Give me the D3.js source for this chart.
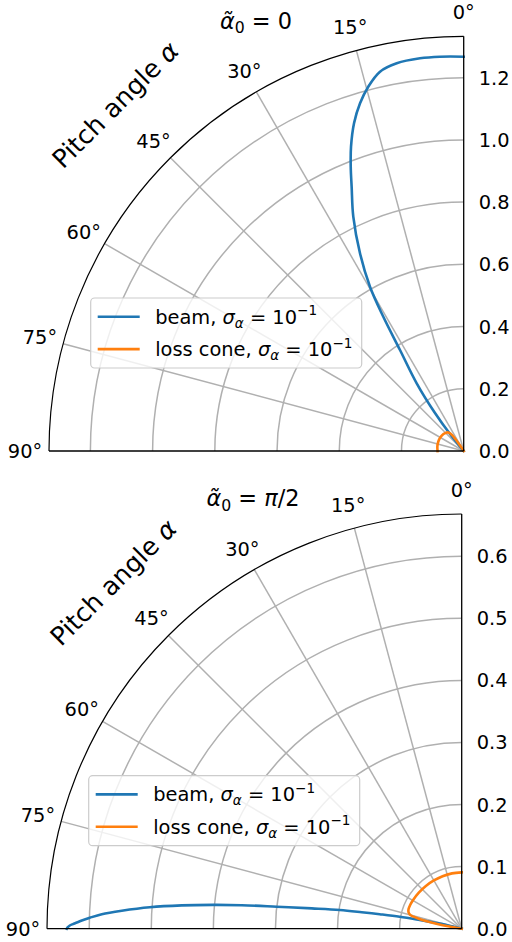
<!DOCTYPE html>
<html><head><meta charset="utf-8">
<script src="https://cdn.jsdelivr.net/npm/d3@7"></script>
<style>
body{margin:0;background:#fff}
svg{display:block}
text{font-family:"DejaVu Sans",sans-serif;fill:#000}
</style>
</head><body>
<svg id="chart" width="512" height="942"></svg>
<script>
// ---------- data ----------
const thetaTicks = [0, 15, 30, 45, 60, 75, 90];
const thetaTickLabels = ["0°", "15°", "30°", "45°", "60°", "75°", "90°"];
const rTicksTop = [0.0, 0.2, 0.4, 0.6, 0.8, 1.0, 1.2];
const rTickLabelsTop = ["0.0", "0.2", "0.4", "0.6", "0.8", "1.0", "1.2"];
const rTicksBottom = [0.0, 0.1, 0.2, 0.3, 0.4, 0.5, 0.6];
const rTickLabelsBottom = ["0.0", "0.1", "0.2", "0.3", "0.4", "0.5", "0.6"];
const rMaxTop = 1.333;
const rMaxBottom = 0.668;
const seriesNames = ["beam", "loss cone"];

// top panel (alpha0 = 0)
const topBeamAlpha = [0, 3.44, 6.35, 9.8, 12.44, 14.68, 16.6, 18.5, 20.32, 21.67, 22.97, 25.23, 27.68, 29.7, 30.91, 32.24, 34.77, 37, 39, 40.5];
const topBeamR     = [1.2675, 1.2697, 1.270, 1.2647, 1.2486, 1.2105, 1.1663, 1.111, 1.043, 0.9834, 0.923, 0.8326, 0.7176, 0.608, 0.503, 0.3838, 0.265, 0.156, 0.065, 0.0];
const topLossAlpha = [31, 33, 34, 35, 36, 38, 40, 44, 50, 60, 70, 80, 90];
const topLossR     = [0.0, 0.012, 0.030, 0.048, 0.062, 0.073, 0.078, 0.082, 0.085, 0.087, 0.087, 0.086, 0.084];

// bottom panel (alpha0 = pi/2)
const botBeamAlpha = [75.5, 76.1, 77.5, 78.3, 79.05, 79.97, 80.63, 81.29, 82.29, 83.22, 83.9, 84.54, 85.24, 86.06, 86.97, 87.69, 88.31, 88.76, 89.08, 89.32, 89.53, 89.78, 90];
const botBeamR     = [0.0, 0.0249, 0.0462, 0.0691, 0.1017, 0.1341, 0.1632, 0.1987, 0.2437, 0.3000, 0.3563, 0.4028, 0.4525, 0.5036, 0.5483, 0.5802, 0.5993, 0.6121, 0.6200, 0.6264, 0.6313, 0.6345, 0.6361];
const botLossAlpha = [0, 10, 20, 30, 40, 50, 60, 65, 70, 73, 75, 76, 77, 78, 79, 80, 81];
const botLossR     = [0.0908, 0.0905, 0.0900, 0.0897, 0.0898, 0.0902, 0.0910, 0.0914, 0.0912, 0.0895, 0.0860, 0.0800, 0.0700, 0.0560, 0.0400, 0.0220, 0.0];

const colors = ["#1f77b4", "#ff7f0e"];

// ---------- drawing ----------
const svg = d3.select("#chart");
svg.append("rect").attr("width", 512).attr("height", 942).attr("fill", "#fff");

const TICK_FS = 19.4, TITLE_FS = 22.4, YLAB_FS = 25.5, LEG_FS = 19.4;

function richText(sel, parts, fs) {
  let shift = 0;
  parts.forEach(p => {
    const ts = sel.append("tspan").text(p.t);
    let target = 0, size = fs;
    if (p.sub) { target = 0.22 * fs; size = 0.7 * fs; }
    if (p.sup) { target = -0.42 * fs; size = 0.7 * fs; }
    ts.attr("dy", target - shift).attr("font-size", size);
    if (p.italic) ts.attr("font-style", "italic");
    shift = target;
  });
}

function drawPanel(cfg) {
  const g = svg.append("g");
  const r = d3.scaleLinear().domain([0, cfg.rMax]).range([0, cfg.R]);
  const a = d3.scaleLinear().domain([0, 90]).range([0, -Math.PI / 2]);
  const px = (al, rv) => [cfg.cx + r(rv) * Math.sin(a(al)), cfg.cy - r(rv) * Math.cos(a(al))];

  const arc = d3.arc().startAngle(a(90)).endAngle(0);

  cfg.rTicks.filter(v => v > 0).forEach(v => {
    g.append("path")
      .attr("transform", `translate(${cfg.cx},${cfg.cy})`)
      .attr("d", arc.innerRadius(r(v)).outerRadius(r(v))())
      .attr("fill", "none").attr("stroke", "#b0b0b0").attr("stroke-width", 1.5);
  });
  thetaTicks.filter(t => t > 0 && t < 90).forEach(t => {
    const p = px(t, cfg.rMax);
    g.append("line").attr("x1", cfg.cx).attr("y1", cfg.cy).attr("x2", p[0]).attr("y2", p[1])
      .attr("stroke", "#b0b0b0").attr("stroke-width", 1.5);
  });

  const line = d3.lineRadial()
    .angle(d => a(d[0]))
    .radius(d => r(d[1]))
    .curve(d3.curveCatmullRom.alpha(0.5));
  cfg.series.forEach((s, i) => {
    const pts = s.alpha.map((al, k) => [al, s.r[k]]);
    g.append("path")
      .attr("transform", `translate(${cfg.cx},${cfg.cy})`)
      .attr("d", line(pts))
      .attr("fill", "none").attr("stroke", colors[i]).attr("stroke-width", 2.6)
      .attr("stroke-linejoin", "round").attr("stroke-linecap", "square");
  });

  g.append("path")
    .attr("transform", `translate(${cfg.cx},${cfg.cy})`)
    .attr("d", arc.innerRadius(cfg.R).outerRadius(cfg.R)())
    .attr("fill", "none").attr("stroke", "#000").attr("stroke-width", 1.2);
  g.append("line").attr("x1", cfg.cx).attr("y1", cfg.cy).attr("x2", cfg.cx).attr("y2", cfg.cy - cfg.R)
    .attr("stroke", "#000").attr("stroke-width", 1.3);
  g.append("line").attr("x1", cfg.cx).attr("y1", cfg.cy).attr("x2", cfg.cx - cfg.R).attr("y2", cfg.cy)
    .attr("stroke", "#000").attr("stroke-width", 1.3);

  thetaTicks.forEach((t, i) => {
    const rr = cfg.R + 24;
    const x = cfg.cx - rr * Math.sin(t * Math.PI / 180);
    const y = cfg.cy - rr * Math.cos(t * Math.PI / 180);
    g.append("text").attr("x", x).attr("y", y + 0.36 * TICK_FS)
      .attr("text-anchor", "middle").attr("font-size", TICK_FS).text(thetaTickLabels[i]);
  });
  cfg.rTicks.forEach((v, i) => {
    g.append("text").attr("x", cfg.cx + 15).attr("y", cfg.cy - r(v) + 0.36 * TICK_FS)
      .attr("font-size", TICK_FS).text(cfg.rTickLabels[i]);
  });

  const tt = g.append("text").attr("x", cfg.titleX).attr("y", cfg.titleY)
    .attr("text-anchor", "middle").attr("font-size", TITLE_FS);
  richText(tt, cfg.title, TITLE_FS);

  const yl = g.append("text")
    .attr("transform", `translate(${cfg.cx - 342},${cfg.cy - 340}) rotate(-45)`)
    .attr("text-anchor", "middle").attr("dy", "0.35em").attr("font-size", YLAB_FS);
  richText(yl, [{t: "Pitch angle "}, {t: "α", italic: true}], YLAB_FS);

  const lx = cfg.cx - 373, ly = cfg.cy - 153;
  g.append("rect").attr("x", lx).attr("y", ly).attr("width", 271).attr("height", 70)
    .attr("rx", 4).attr("fill", "#fff").attr("fill-opacity", 0.8)
    .attr("stroke", "#cccccc").attr("stroke-width", 1.2);
  seriesNames.forEach((nm, i) => {
    const yy = ly + 18.7 + i * 32.4;
    g.append("line").attr("x1", lx + 7).attr("x2", lx + 49).attr("y1", yy).attr("y2", yy)
      .attr("stroke", colors[i]).attr("stroke-width", 2.6);
    const lt = g.append("text").attr("x", lx + 64.5).attr("y", yy + 6.8).attr("font-size", LEG_FS);
    richText(lt, [{t: nm + ", "}, {t: "σ", italic: true}, {t: "α", italic: true, sub: true},
      {t: " = 10"}, {t: "−1", sup: true}], LEG_FS);
  });
}

drawPanel({
  cx: 463.7, cy: 451, R: 414.7, rMax: rMaxTop,
  rTicks: rTicksTop, rTickLabels: rTickLabelsTop,
  titleX: 256, titleY: 28.5,
  title: [{t: "α̃", italic: true}, {t: "0", sub: true}, {t: " = 0"}],
  series: [{alpha: topBeamAlpha, r: topBeamR}, {alpha: topLossAlpha, r: topLossR}]
});
drawPanel({
  cx: 461.7, cy: 928.7, R: 414.7, rMax: rMaxBottom,
  rTicks: rTicksBottom, rTickLabels: rTickLabelsBottom,
  titleX: 253, titleY: 506,
  title: [{t: "α̃", italic: true}, {t: "0", sub: true}, {t: " = "}, {t: "π", italic: true}, {t: "/2"}],
  series: [{alpha: botBeamAlpha, r: botBeamR}, {alpha: botLossAlpha, r: botLossR}]
});
</script>
</body></html>
